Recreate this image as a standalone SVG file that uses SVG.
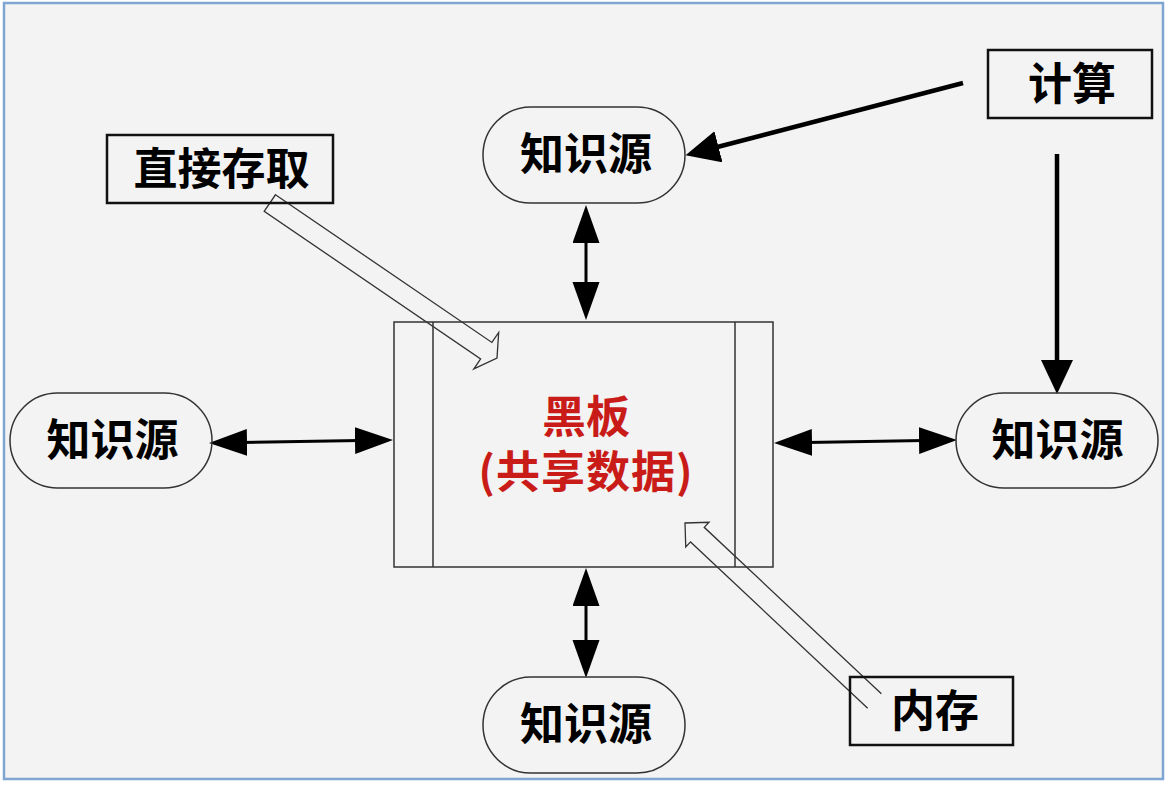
<svg xmlns="http://www.w3.org/2000/svg" width="1172" height="786" viewBox="0 0 1172 786">
<defs>
<style>
.bg{fill:#f3f3f3;stroke:#7fa6d3;stroke-width:2.5}
.ks{fill:none;stroke:#333;stroke-width:1.5}
.lbl{fill:none;stroke:#111;stroke-width:2.5}
.bb{fill:none;stroke:#333;stroke-width:1.5}
.t{font-family:"Noto Sans CJK SC","Noto Sans CJK JP",sans-serif;font-weight:bold;font-size:44px;fill:#000;text-anchor:middle}
.red{fill:#c91c18;font-size:44px}
.dbl{fill:none;stroke:#000;stroke-width:3;marker-start:url(#ah);marker-end:url(#ah)}
.one{fill:none;stroke:#000;stroke-width:4.5;marker-end:url(#ah2)}
.blk{fill:none;stroke:#333;stroke-width:1.3;stroke-linejoin:miter}
</style>
<marker id="ah" markerUnits="userSpaceOnUse" markerWidth="40" markerHeight="28" refX="20" refY="13.5" orient="auto-start-reverse" viewBox="0 0 40 28">
<path d="M0,0 L38,13.5 L0,27 z" fill="#000"/>
</marker>
<marker id="ah2" markerUnits="userSpaceOnUse" markerWidth="36" markerHeight="34" refX="16" refY="16" orient="auto" viewBox="0 0 36 34">
<path d="M0,0 L34,16 L0,32 z" fill="#000"/>
</marker>
</defs>
<rect x="0" y="0" width="1172" height="786" fill="#ffffff"/>
<rect class="bg" x="4" y="3" width="1159" height="776"/>

<g id="connectors">
<line class="dbl" x1="586" y1="223" x2="586" y2="302"/>
<line class="dbl" x1="586" y1="586" x2="586" y2="660"/>
<line class="dbl" x1="227" y1="442.7" x2="375" y2="440.3"/>
<line class="dbl" x1="792" y1="442.7" x2="939" y2="440.3"/>
<line class="one" x1="963" y1="83" x2="703" y2="150.8"/>
<line class="one" x1="1057" y1="154" x2="1057" y2="376"/>
<path id="arrow-direct" class="blk" transform="translate(497,358) rotate(34.3)" d="M-275,-10 L-13,-10 L-13,-22 L0,0 L-13,22 L-13,10 L-275,10 Z"/>
<path id="arrow-memory" class="blk" transform="translate(685,523) rotate(43.2)" d="M260,-10 L17,-10 L17,-17 L0,0 L17,17 L17,10 L260,10"/>
</g>

<g id="blackboard">
<rect class="bb" x="394" y="322" width="379" height="245"/>
<line class="bb" x1="433" y1="322" x2="433" y2="567"/>
<line class="bb" x1="735" y1="322" x2="735" y2="567"/>
<text class="t red"><tspan x="586" y="433">黑板</tspan><tspan x="586" y="488" letter-spacing="1">(共享数据)</tspan></text>
</g>

<g id="ks-top">
<rect class="ks" x="483" y="107" width="202" height="96" rx="48" ry="48"/>
<text class="t" x="586" y="170">知识源</text>
</g>
<g id="ks-left">
<rect class="ks" x="10" y="393" width="202" height="95" rx="47.5" ry="47.5"/>
<text class="t" x="112.5" y="456">知识源</text>
</g>
<g id="ks-right">
<rect class="ks" x="956" y="393" width="202" height="95" rx="47.5" ry="47.5"/>
<text class="t" x="1057.5" y="456">知识源</text>
</g>
<g id="ks-bottom">
<rect class="ks" x="483" y="677" width="202" height="96" rx="48" ry="48"/>
<text class="t" x="586" y="740">知识源</text>
</g>

<g id="label-direct">
<rect class="lbl" x="107" y="135" width="226" height="68"/>
<text class="t" x="221.5" y="185">直接存取</text>
</g>
<g id="label-compute">
<rect class="lbl" x="988" y="50" width="164" height="68"/>
<text class="t" x="1072" y="100">计算</text>
</g>
<g id="label-memory">
<rect class="lbl" x="850" y="677" width="163" height="68"/>
<text class="t" x="935" y="727">内存</text>
</g>
</svg>
